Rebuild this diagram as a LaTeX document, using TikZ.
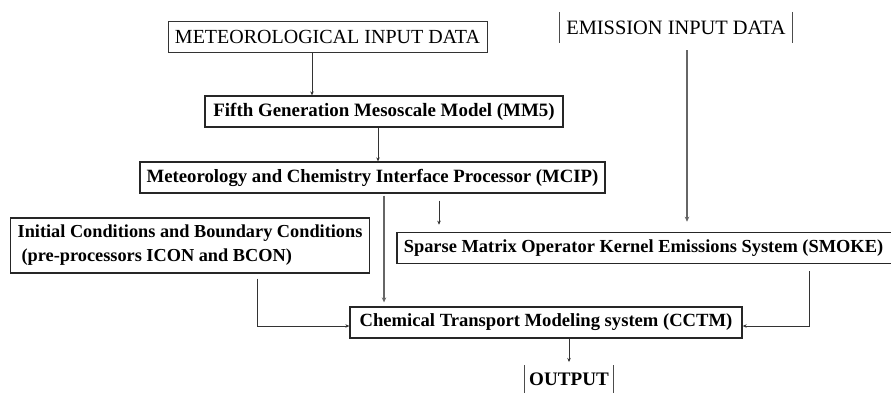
\documentclass[tikz,border=0pt]{standalone}
\usepackage{fontspec}
\setmainfont{Liberation Serif}
\usetikzlibrary{arrows.meta,positioning,calc}
\begin{document}
\begin{tikzpicture}[x=1pt,y=-1pt,
  box/.style={draw=black!85,line width=1.3pt,minimum height=31pt,inner sep=0pt,font=\fontsize{18.6}{22}\selectfont\bfseries},
  thinbox/.style={draw=black!80,line width=0.8pt,minimum height=31pt,inner sep=0pt,font=\fontsize{20}{22}\selectfont},
  plain/.style={inner sep=0pt,minimum height=31pt,font=\fontsize{20.4}{22}\selectfont},
  side/.style={draw=black!70,line width=1.3pt},
  arr/.style={draw=black!80,line width=0.7pt,-{Stealth[length=4pt,width=3.5pt]}},
  thickarr/.style={draw=black!60,line width=1.8pt,-{Stealth[length=5pt,width=4.5pt]}},
]
\fill[white] (0,0) rectangle (891,392);
\clip (0,0) rectangle (891,392);
% nodes
\node[thinbox,minimum width=319pt] (met) at (327.5,36.5) {METEOROLOGICAL INPUT DATA};
\node[plain,minimum width=232pt] (emi) at (676,27.5) {EMISSION INPUT DATA};
\draw[side] (emi.north west) -- (emi.south west);
\draw[side] (emi.north east) -- (emi.south east);
\node[box,minimum width=358pt,font=\fontsize{18.9}{22}\selectfont\bfseries] (mm5) at (384,111.5) {Fifth Generation Mesoscale Model (MM5)};
\node[box,minimum width=465pt,font=\fontsize{18.75}{22}\selectfont\bfseries] (mcip) at (372.5,177.5) {Meteorology and Chemistry Interface Processor (MCIP)};
\node[box,anchor=west,minimum height=55pt,inner xsep=7pt,align=left,
  font=\fontsize{18.3}{24}\selectfont\bfseries] (icon) at (10,245.5)
  {\makebox[345pt][l]{Initial Conditions and Boundary Conditions}\\\makebox[345pt][l]{\hspace*{4pt}(pre-processors ICON and BCON)}};
\node[box,anchor=west,inner xsep=7pt,line width=1.6pt,font=\fontsize{18.4}{22}\selectfont\bfseries] (smoke) at (396,248)
  {\makebox[495pt][l]{Sparse Matrix Operator Kernel Emissions System (SMOKE)}};
\node[box,minimum width=392pt] (cctm) at (546,322.5) {Chemical Transport Modeling system (CCTM)};
\node[plain,minimum width=88pt,minimum height=28pt,font=\fontsize{19.1}{22}\selectfont\bfseries,anchor=north] (out) at (569,365) {OUTPUT};
\draw[side] (out.north west) -- ++(0,30);
\draw[side] (out.north east) -- ++(0,30);
% connectors
\draw[arr] (met.south -| 312,0) -- (mm5.north -| 312,0);
\draw[arr] (mm5.south -| 378,0) -- (mcip.north -| 378,0);
\draw[thickarr,shorten <=2pt,shorten >=4pt] (mcip.south -| 384,0) -- (cctm.north -| 384,0);
\draw[arr,shorten <=7pt,shorten >=7pt] (mcip.south -| 439,0) -- (smoke.north -| 439,0);
\draw[thickarr,shorten <=7pt,shorten >=10pt] (emi.south -| 687,0) -- (smoke.north -| 687,0);
\coordinate (iconout) at ([xshift=67.5pt,yshift=-5pt]icon.south);
\draw[arr] (iconout) |- ([yshift=-3.5pt]cctm.west);
\coordinate (smokeout) at ([yshift=-7pt]smoke.south -| 809,0);
\draw[arr] (smokeout) |- ([yshift=-3.5pt]cctm.east);
\draw[arr,shorten >=3pt] (cctm.south -| 569,0) -- (out.north -| 569,0);
\end{tikzpicture}
\end{document}
